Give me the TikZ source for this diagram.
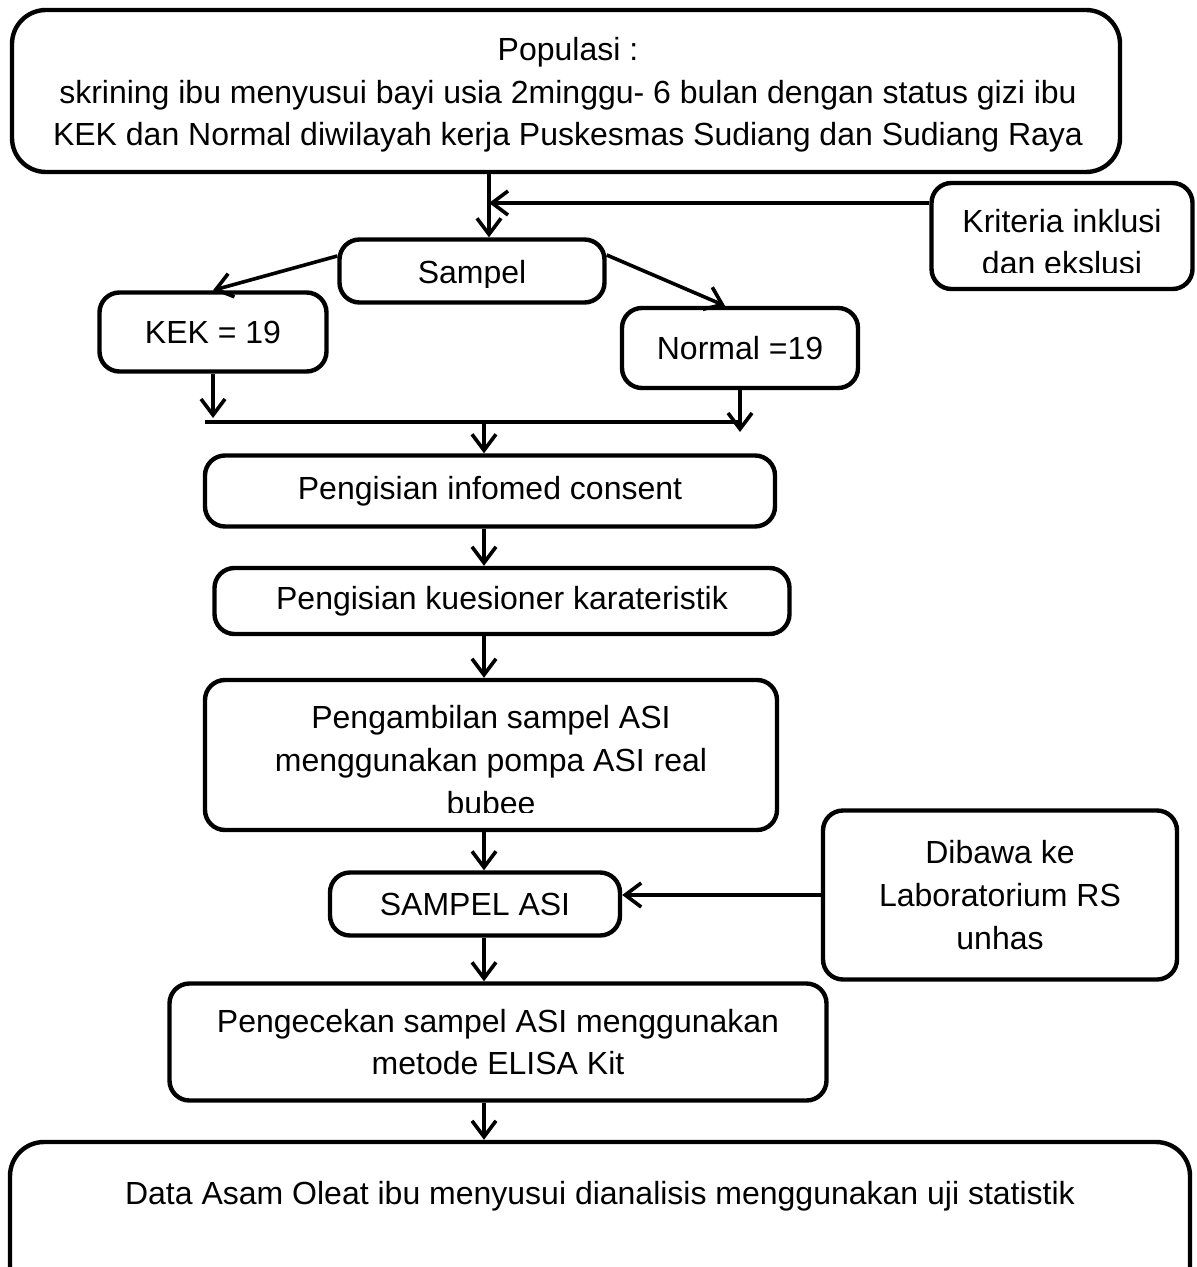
\documentclass[tikz,border=0pt]{standalone}
\usepackage{fontspec}
\setmainfont{Liberation Sans}
\usetikzlibrary{arrows.meta}
\begin{document}
\begin{tikzpicture}[x=0.5pt,y=-0.5pt,
  box/.style={draw,line width=2.2pt,rounded corners=10pt,align=center,inner sep=0pt,
    font=\fontsize{16}{21.3}\selectfont},
  bigbox/.style={box,rounded corners=17pt},
  txt/.style={inner sep=0pt,align=center,font=\fontsize{16}{21.3}\selectfont},
  arr/.style={line width=1.8pt,-{Straight Barb[length=8pt,width=12pt,line width=1.8pt]}},
  bar/.style={line width=2.2pt}]
\useasboundingbox (0,0) rectangle (1197,1267);

% boxes
\node[bigbox,minimum width=554pt,minimum height=81pt] (pop) at (566,91) {};
\node[txt] (poptxt) at (568,95)
  {Populasi :\\skrining ibu menyusui bayi usia 2minggu- 6 bulan dengan status gizi ibu\\KEK dan Normal diwilayah kerja Puskesmas Sudiang dan Sudiang Raya};
\node[box,minimum width=130.5pt,minimum height=53pt] (krit) at (1062,236) {};
\node[box,minimum width=132.5pt,minimum height=31.5pt] (samp) at (472,271) {};
\node[box,minimum width=113.5pt,minimum height=39.5pt] (kek) at (213,332) {KEK = 19};
\node[box,minimum width=118pt,minimum height=40pt] (norm) at (740,348) {Normal =19};
\node[box,minimum width=285pt,minimum height=35.5pt] (cons) at (490,491) {Pengisian infomed consent};
\node[box,minimum width=287.5pt,minimum height=33pt] (kues) at (502,601) {Pengisian kuesioner karateristik};
\node[box,minimum width=286pt,minimum height=75pt] (ambil) at (491,755) {};
\node[box,minimum width=145pt,minimum height=31.5pt] (sasi) at (475,904) {SAMPEL ASI};
\node[box,minimum width=177pt,minimum height=84.5pt] (dibawa) at (1000,895)
  {Dibawa ke\\Laboratorium RS\\unhas};
\node[box,minimum width=328.5pt,minimum height=58.5pt] (cek) at (498,1042)
  {Pengecekan sampel ASI menggunakan\\metode ELISA Kit};
\node[bigbox,minimum width=590pt,minimum height=79pt] (data) at (600,1221) {};
\node[txt] (datatxt) at (600,1196) {Data Asam Oleat ibu menyusui dianalisis menggunakan uji statistik};

% texts clipped by their boxes
\coordinate (kclip) at (0,273);
\coordinate (sclip) at (0,288);
\coordinate (aclip) at (0,812);
\begin{scope}
  \clip (krit.north west) rectangle (krit.east |- kclip);
  \node[txt] (krittxt) at (1062,242) {Kriteria inklusi\\dan ekslusi};
\end{scope}
\begin{scope}
  \clip (samp.north west) rectangle (samp.east |- sclip);
  \node[txt] (samptxt) at (472,275) {Sampel};
\end{scope}
\begin{scope}
  \clip (ambil.north west) rectangle (ambil.east |- aclip);
  \node[txt] (ambiltxt) at (491,760) {Pengambilan sampel ASI\\menggunakan pompa ASI real\\bubee};
\end{scope}

% connectors
\coordinate (c1) at (489,203);
\coordinate (col) at (484,0);
\coordinate (hl) at (205,422);
\coordinate (hr) at (742,422);
\coordinate (kekend) at (213,418);
\coordinate (normend) at (740,432);

\draw[arr] (c1 |- pop.south) -- (c1 |- samp.north);
\draw[arr] (krit.west |- c1) -- (c1);
\draw[arr] ([yshift=7.5pt]samp.west) -- (kek.north);
\draw[arr] ([yshift=8pt]samp.east) -- ([xshift=-7.5pt]norm.north);
\draw[arr] (kek.south) -- (kekend);
\draw[arr] (norm.south) -- (normend);
\draw[bar] (hl) -- (hr);
\draw[arr] (col |- hl) -- (col |- cons.north);
\draw[arr] (col |- cons.south) -- (col |- kues.north);
\draw[arr] (col |- kues.south) -- (col |- ambil.north);
\draw[arr] (col |- ambil.south) -- (col |- sasi.north);
\draw[arr] (dibawa.west) -- (sasi.east |- dibawa.west);
\draw[arr] (col |- sasi.south) -- (col |- cek.north);
\draw[arr] (col |- cek.south) -- (col |- data.north);
\end{tikzpicture}
\end{document}
